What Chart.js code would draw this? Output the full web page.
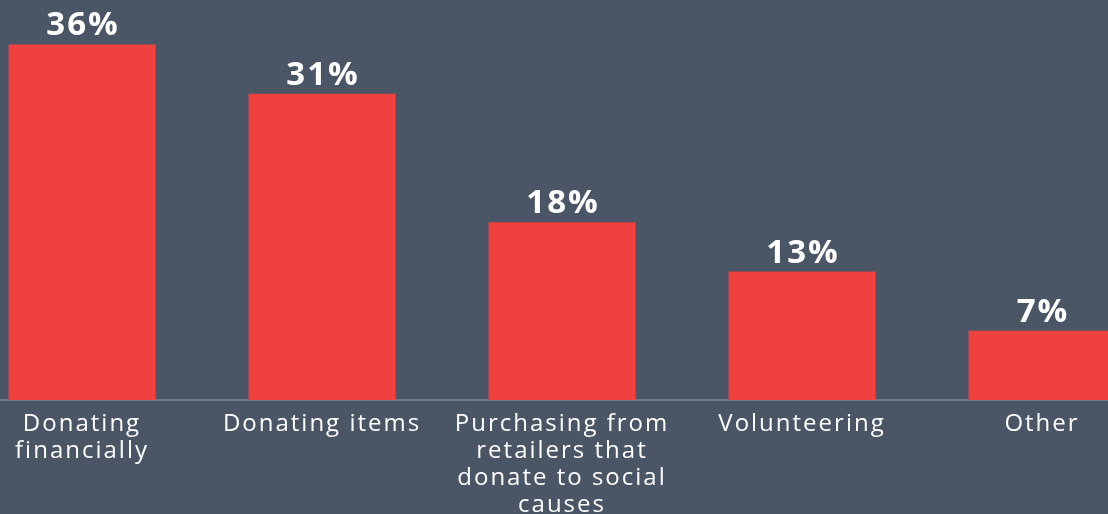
<!DOCTYPE html>
<html>
<head>
<meta charset="utf-8">
<script src="https://cdn.jsdelivr.net/npm/chart.js@4"></script>
<style>
    html, body {
        margin: 0;
        padding: 0;
        width: 1108px;
        height: 514px;
        overflow: hidden;
        background: #4a5566;
    }
    #wrap {
        position: relative;
        margin-left: -38px;
        width: 1200px;
        height: 514px;
    }
</style>
</head>
<body>
<div id="wrap">
    <canvas id="causesChart" width="1200" height="514"></canvas>
</div>
<script>
var categories = [
    ["Donating", "financially"],
    "Donating items",
    ["Purchasing from", "retailers that", "donate to social", "causes"],
    "Volunteering",
    "Other"
];
var shares = [36, 31, 18, 13, 7];

// wider tracking for all text, like the original typeface
var spacing = {
    id: "spacing",
    beforeDraw: function(chart) {
        chart.ctx.letterSpacing = "2px";
    }
};

// percentage text on top of every bar
var valueLabels = {
    id: "valueLabels",
    afterDatasetsDraw: function(chart) {
        var ctx = chart.ctx;
        var meta = chart.getDatasetMeta(0);
        ctx.save();
        ctx.letterSpacing = "2px";
        ctx.fillStyle = "#ffffff";
        ctx.font = "bold 33px 'Open Sans'";
        ctx.textAlign = "center";
        ctx.textBaseline = "alphabetic";
        meta.data.forEach(function(bar, i) {
            ctx.fillText(shares[i] + "%", bar.x + 1, bar.y - 9);
        });
        ctx.restore();
    }
};

var ctxCauses = document.getElementById("causesChart");

new Chart(ctxCauses, {
    type: "bar",
    data: {
        labels: categories,
        datasets: [
            {
                data: shares,
                backgroundColor: "#ef413e",
                borderWidth: 0,
                categoryPercentage: 1,
                barPercentage: 0.6125
            }
        ]
    },
    options: {
        responsive: false,
        maintainAspectRatio: false,
        animation: false,
        layout: { padding: 0 },
        plugins: {
            legend: { display: false },
            tooltip: { enabled: false }
        },
        scales: {
            y: {
                display: false,
                min: 0,
                max: 40.5
            },
            x: {
                grid: { display: false, drawTicks: false },
                border: { display: true, color: "#6e7a88", width: 2 },
                ticks: {
                    color: "#ffffff",
                    padding: 11,
                    maxRotation: 0,
                    autoSkip: false,
                    font: { family: "'Open Sans'", size: 24, lineHeight: 1.12 }
                },
                afterFit: function(axis) {
                    axis.height = 114;
                }
            }
        }
    },
    plugins: [spacing, valueLabels]
});
</script>
</body>
</html>
